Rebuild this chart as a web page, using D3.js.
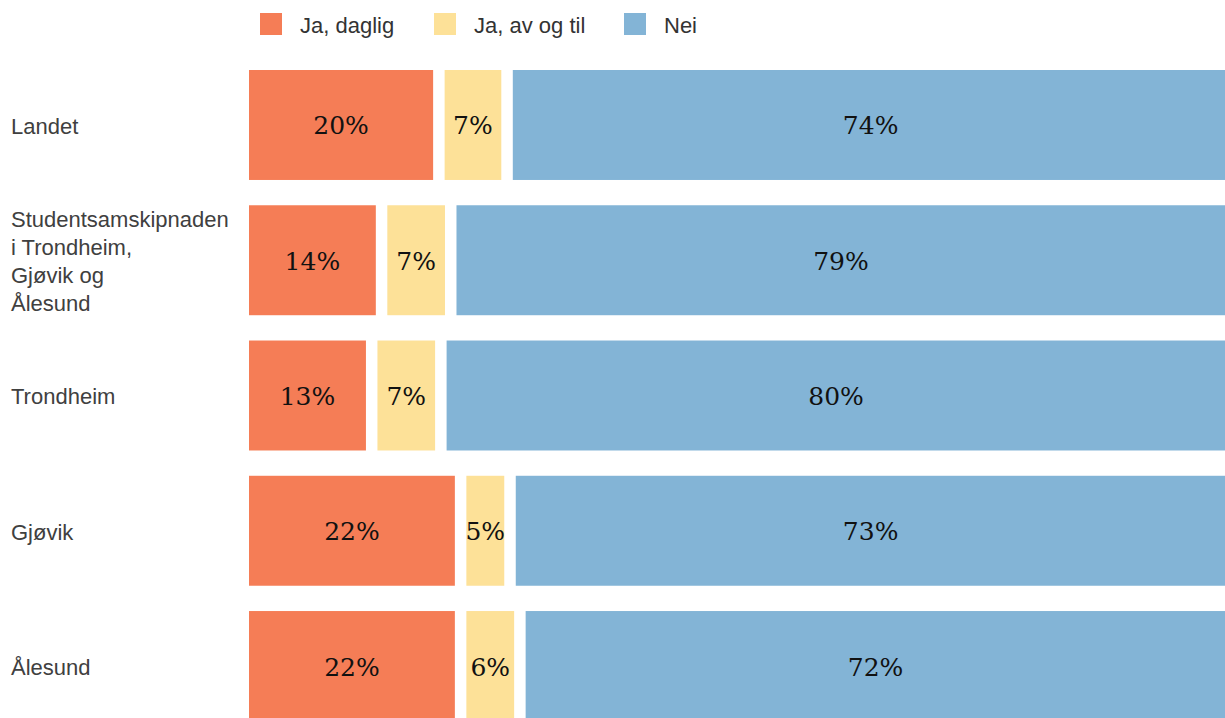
<!DOCTYPE html>
<html><head><meta charset="utf-8">
<script src="https://cdn.jsdelivr.net/npm/d3@7"></script>
<style>body{margin:0;background:#fff;overflow:hidden}</style>
</head><body>
<script>
const categories = ["Landet", "Studentsamskipnaden i Trondheim, Gjøvik og Ålesund", "Trondheim", "Gjøvik", "Ålesund"];
const categoryLines = [["Landet"], ["Studentsamskipnaden", "i Trondheim,", "Gjøvik og", "Ålesund"], ["Trondheim"], ["Gjøvik"], ["Ålesund"]];
const seriesNames = ["Ja, daglig", "Ja, av og til", "Nei"];
const jaDaglig = [19.8, 14, 13, 22, 22];
const jaAvOgTil = [6.9, 7, 7, 5, 6];
const nei = [73.6, 79, 80, 73, 72];
const valueLabels = [["20%", "14%", "13%", "22%", "22%"], ["7%", "7%", "7%", "5%", "6%"], ["74%", "79%", "80%", "73%", "72%"]];
const colors = ["#F57D56", "#FDE198", "#83B4D6"];

const W = 1225, H = 718;
const svg = d3.select("body").append("svg").attr("width", W).attr("height", H);

const x = d3.scaleLinear().domain([0, 100]).range([249, 1237]);
const y = d3.scaleBand().domain(categories).range([70, 721]).paddingInner(0.187).paddingOuter(0);
const gap = 11.5;

const series = [jaDaglig, jaAvOgTil, nei];
categories.forEach((c, i) => {
  let cum = 0;
  series.forEach((s, k) => {
    const v = s[i];
    const x0 = x(cum);
    const w = x(cum + v) - x0 - gap;
    svg.append("rect").attr("x", x0).attr("y", y(c)).attr("width", w).attr("height", y.bandwidth()).attr("fill", colors[k]);
    svg.append("text").attr("x", x0 + w / 2)
      .attr("y", y(c) + y.bandwidth() / 2 + 3)
      .attr("text-anchor", "middle").attr("dominant-baseline", "middle")
      .attr("font-family", "Georgia, 'DejaVu Serif', serif").attr("font-size", 25)
      .attr("fill", "#111").text(valueLabels[k][i]);
    cum += v;
  });
  const lines = categoryLines[i];
  const lh = 28;
  const cy = y(c) + y.bandwidth() / 2 + 3;
  lines.forEach((ln, j) => {
    svg.append("text").attr("x", 11).attr("y", cy + (j - (lines.length - 1) / 2) * lh)
      .attr("dominant-baseline", "middle")
      .attr("font-family", "'Liberation Sans', Arial, sans-serif").attr("font-size", 22)
      .attr("fill", "#404040").text(ln);
  });
});

const legX = [260, 434, 624];
seriesNames.forEach((n, k) => {
  svg.append("rect").attr("x", legX[k]).attr("y", 13).attr("width", 22).attr("height", 22).attr("fill", colors[k]);
  svg.append("text").attr("x", legX[k] + 40).attr("y", 27).attr("dominant-baseline", "middle")
    .attr("font-family", "'Liberation Sans', Arial, sans-serif").attr("font-size", 22)
    .attr("fill", "#333").text(n);
});
</script>
</body></html>
